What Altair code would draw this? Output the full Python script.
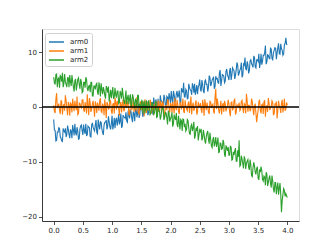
import altair as alt
import pandas as pd

# x grids: main samples (0 to 4, step 0.025) and the samples between them
x_main = [round(0.025 * i, 4) for i in range(161)]
x_mid = [round(0.0125 + 0.025 * i, 4) for i in range(160)]

arm0 = [
    -2.3, -4.3, -6.1, -4.6, -3.9, -5.7, -6.3, -4.4, -3.9, -5.0,
    -4.1, -5.7, -4.4, -3.3, -5.2, -4.7, -3.7, -5.9, -4.0, -3.3,
    -5.1, -4.3, -3.1, -5.1, -3.7, -5.4, -3.3, -3.7, -4.4, -2.4,
    -4.9, -3.4, -2.7, -4.0, -5.1, -2.8, -2.4, -3.5, -2.7, -4.1,
    -1.6, -3.3, -3.9, -2.0, -2.5, -3.2, -1.2, -3.5, -1.8, -2.1,
    -2.6, -0.7, -2.1, -0.9, -2.8, -1.2, -0.4, -1.9, 0.6, -1.4,
    -0.5, -1.8, 0.0, -0.7, 1.0, -1.1, 0.0, 0.8, -1.4, 0.7,
    1.4, 0.1, -0.3, 2.1, 1.0, 0.3, 1.7, 0.0, 1.7, 2.5,
    0.7, 1.6, 2.9, 0.8, 2.4, 1.7, 3.0, 0.8, 2.9, 4.4,
    1.8, 2.9, 1.6, 3.6, 3.0, 4.3, 2.6, 2.2, 4.0, 3.6,
    5.0, 2.8, 4.1, 2.5, 4.9, 4.1, 3.6, 5.4, 4.2, 5.1,
    3.3, 5.6, 5.2, 4.3, 6.7, 4.8, 5.8, 4.4, 6.5, 5.8,
    4.9, 7.1, 5.8, 6.8, 5.1, 6.8, 7.6, 6.1, 7.0, 5.4,
    7.8, 9.0, 6.8, 7.7, 6.6, 8.6, 7.6, 9.2, 7.3, 8.6,
    8.3, 7.1, 9.7, 8.3, 9.4, 11.2, 8.2, 9.4, 8.8, 10.5,
    8.6, 10.3, 10.7, 9.8, 11.6, 9.6, 10.6, 9.4, 11.3, 12.6,
    11.3,
]
arm0_mid = [
    -4.2, -6.2, -4.6, -3.8, -5.4, -6.2, -3.9, -4.6, -5.5, -3.4,
    -5.0, -4.1, -5.7, -4.2, -3.1, -5.2, -4.4, -5.8, -3.5, -4.4,
    -3.2, -4.9, -5.2, -3.5, -3.8, -5.5, -2.9, -4.1, -3.3, -4.7,
    -2.3, -4.1, -2.8, -4.7, -3.3, -2.8, -4.1, -1.7, -3.7, -3.0,
    -4.1, -2.0, -2.4, -3.4, -1.3, -2.6, -3.8, -1.5, -1.9, -1.0,
    -2.8, -1.5, -0.5, -2.1, -0.9, -2.6, -0.4, -1.1, -2.0, 0.5,
    -0.5, -1.3, 0.6, -0.7, -1.5, 0.4, 0.8, -0.4, 1.7, -0.5,
    0.5, 1.5, -0.7, 1.2, 0.7, 2.2, 0.2, 1.9, 0.9, 1.7,
    2.9, 0.6, 2.3, 1.3, 2.9, 2.1, 0.7, 3.4, 2.7, 1.8,
    3.2, 1.5, 4.2, 3.1, 2.2, 3.8, 4.2, 3.0, 2.3, 4.0,
    3.2, 4.9, 2.9, 4.7, 4.1, 2.8, 5.7, 3.8, 4.9, 5.5,
    3.7, 5.1, 4.4, 6.2, 3.8, 5.9, 5.6, 4.7, 6.9, 5.5,
    6.6, 4.9, 7.1, 6.6, 5.8, 8.1, 5.7, 6.7, 8.1, 5.8,
    7.6, 6.9, 8.3, 6.1, 8.4, 7.9, 7.2, 9.1, 7.1, 8.6,
    9.7, 8.0, 7.7, 9.4, 9.9, 7.8, 9.5, 8.9, 10.8, 8.8,
    9.9, 10.8, 8.7, 10.8, 9.7, 11.5, 10.3, 9.7, 11.6, 11.4,
]

arm1 = [
    0.3, -1.1, 2.5, 0.2, -0.6, 1.2, -1.4, 0.5, 2.1, -0.3,
    0.9, -1.6, 0.4, 1.5, -0.8, 0.1, 1.9, -1.2, 0.6, -0.2,
    1.3, -0.9, 0.0, 2.3, -1.5, 0.7, -0.4, 1.1, -1.8, 0.3,
    0.8, -0.7, 1.6, -1.0, 0.2, 1.4, -2.0, 0.5, -0.3, 1.0,
    -1.3, 0.6, 1.7, -0.5, 0.1, -1.6, 0.9, 0.4, -0.8, 1.2,
    -0.2, 0.7, -1.4, 1.5, 0.0, -0.9, 0.3, 1.8, -1.1, 0.4,
    -0.6, 1.0, -1.7, 0.2, 0.8, -0.4, 1.3, -1.2, 0.5, -0.1,
    0.9, -1.5, 0.3, 1.1, -0.7, 0.6, -1.9, 0.2, 1.4, -0.3,
    0.7, -1.0, 0.1, 1.6, -0.6, 0.4, -1.3, 0.8, 0.0, -0.8,
    1.2, -0.4, 0.5, -1.1, 1.9, 0.2, -0.7, 0.6, -1.4, 0.9,
    0.1, -0.5, 1.3, -1.6, 0.4, 0.8, -0.9, 1.0, -0.2, 0.5,
    -1.2, 3.3, 1.5, -0.6, 0.0, -1.4, 0.7, 1.1, -0.8, 0.2,
    0.6, -1.7, 0.9, -0.3, 1.4, -1.0, 0.2, 0.8, -0.5, 1.2,
    -1.1, 0.4, 2.4, -0.9, 0.3, -0.4, 1.0, -1.5, 0.6, -2.8,
    -0.7, 1.3, -1.2, 0.5, 0.9, -1.8, 0.2, 1.6, -0.6, 0.0,
    0.8, -1.3, 0.4, -2.1, 1.1, -0.2, 0.7, -1.0, 1.5, -0.4,
    0.3,
]
arm1_mid = [
    -0.8, 1.4, -0.2, 0.6, -1.3, 0.9, 0.1, -0.7, 1.2, -1.5,
    0.4, 0.8, -1.0, 0.2, 1.1, -0.6, -1.4, 0.7, 0.0, 1.3,
    -0.5, 0.9, -1.2, 0.3, 1.6, -0.9, 0.5, -0.3, 1.0, -1.1,
    0.2, 1.2, -0.8, 0.6, -1.5, 0.0, 0.9, -0.4, 1.3, -0.7,
    0.5, -1.2, 0.8, 1.1, -0.3, 0.6, -1.0, 1.4, -0.5, 0.2,
    0.9, -1.4, 0.3, -0.6, 1.2, 0.1, -0.8, 0.7, -1.3, 1.0,
    -0.2, 0.6, 1.4, -1.1, 0.3, -0.7, 0.9, 0.0, -1.5, 0.8,
    -0.4, 1.2, -0.9, 0.5, 1.0, -1.3, 0.2, -0.6, 1.1, -1.0,
    0.4, 0.9, -1.2, 0.0, 1.3, -0.8, 0.6, -0.3, 1.5, -1.1,
    0.3, -0.7, 1.0, 0.5, -1.4, 0.8, -0.2, 1.2, -0.9, 0.1,
    0.7, -1.1, 0.4, 1.4, -0.6, 0.0, -1.3, 0.9, 0.3, -0.8,
    1.8, -0.4, 0.6, -1.2, 1.1, 0.2, -0.9, 0.5, -0.3, 1.3,
    -1.0, 0.8, -0.5, 1.2, -1.4, 0.4, 0.0, -0.7, 1.0, -0.2,
    0.6, -1.2, 1.1, 0.3, -0.8, 1.5, -0.4, 0.2, -1.1, -1.6,
    0.9, -0.6, 0.4, -1.3, 1.2, 0.1, -0.9, 0.7, -0.2, 1.1,
    -1.4, 0.5, 1.0, -0.6, 0.2, -1.1, 1.3, 0.0, -0.7, 0.8,
]

arm2 = [
    5.4, 4.1, 6.0, 5.1, 3.5, 5.5, 6.2, 4.3, 4.6, 3.6,
    5.3, 5.8, 3.8, 4.7, 2.8, 5.1, 4.0, 5.3, 3.3, 4.5,
    2.8, 4.5, 5.4, 3.4, 3.8, 2.7, 4.5, 2.0, 3.8, 4.1,
    2.7, 4.5, 1.9, 3.2, 3.6, 2.1, 3.8, 2.6, 1.0, 3.1,
    2.7, 1.5, 3.5, 1.7, 2.9, 0.8, 2.4, 3.5, 1.1, 1.6,
    0.5, 2.2, 1.5, -0.1, 2.3, 0.7, 1.5, -0.2, 2.1, 0.3,
    0.8, -1.1, 1.1, 0.2, -0.7, 1.2, -1.4, -0.1, 0.2, -1.1,
    1.1, -1.8, -0.8, -2.3, -0.6, -0.4, -1.9, -1.1, -3.2, -1.1,
    -2.2, -1.0, -3.1, -2.0, -1.1, -3.7, -2.8, -2.3, -4.4, -2.3,
    -3.1, -4.1, -2.5, -4.9, -3.5, -4.4, -2.7, -5.2, -4.4, -6.1,
    -4.2, -4.0, -5.7, -5.0, -6.7, -4.8, -5.9, -4.7, -7.1, -5.9,
    -7.2, -5.5, -6.6, -8.3, -6.6, -7.7, -6.0, -8.7, -7.0, -8.0,
    -8.8, -7.2, -9.7, -8.2, -8.0, -9.9, -7.9, -6.1, -10.6, -9.5,
    -11.2, -9.5, -10.3, -9.6, -11.5, -10.6, -12.7, -10.1, -11.9, -11.2,
    -13.0, -11.4, -10.9, -13.2, -12.6, -14.3, -12.3, -13.8, -12.5, -14.7,
    -13.5, -15.6, -13.8, -14.7, -16.0, -13.9, -19.2, -16.0, -15.2, -15.8,
    -16.5,
]
arm2_mid = [
    4.4, 5.9, 3.6, 5.3, 5.7, 4.6, 3.6, 6.0, 4.1, 5.3,
    3.6, 4.6, 5.8, 3.6, 4.8, 3.0, 5.0, 4.1, 5.1, 2.6,
    4.5, 3.5, 5.0, 2.9, 3.9, 4.5, 2.0, 3.8, 3.2, 4.3,
    2.2, 3.6, 4.3, 2.3, 3.0, 1.5, 3.4, 3.7, 2.1, 1.6,
    3.6, 1.8, 2.2, 2.9, 0.6, 2.9, 1.5, 2.3, 0.5, 3.0,
    1.6, 0.5, 2.3, 0.7, 1.7, -0.3, 1.1, 2.1, 0.0, -0.5,
    1.3, 0.4, -1.2, 1.2, -0.3, 0.3, -1.2, 0.9, -1.3, -0.3,
    -1.9, -0.1, -0.8, -1.7, 0.1, -2.4, -1.0, -2.0, -0.7, -2.7,
    -1.8, -3.6, -1.4, -2.4, -3.2, -1.6, -4.1, -2.5, -2.2, -3.7,
    -4.4, -2.3, -3.8, -5.0, -3.2, -3.8, -5.8, -3.8, -3.5, -5.1,
    -4.5, -6.1, -4.2, -6.1, -5.4, -4.4, -6.7, -5.8, -7.4, -5.5,
    -6.5, -7.3, -5.6, -8.2, -6.7, -7.6, -6.6, -9.1, -7.5, -7.3,
    -8.8, -7.3, -9.6, -8.8, -7.5, -9.9, -9.1, -10.8, -8.9, -10.3,
    -9.0, -11.3, -9.9, -11.0, -9.6, -12.5, -11.1, -10.7, -12.3, -10.9,
    -13.3, -11.9, -11.6, -13.5, -12.8, -11.9, -14.4, -13.0, -14.0, -12.5,
    -15.0, -13.8, -15.9, -13.8, -14.8, -15.9, -17.0, -14.9, -16.3, -16.2,
]

series_names = ["arm0", "arm1", "arm2"]
series_colors = ["#1f77b4", "#ff7f0e", "#2ca02c"]
x_ticks = [0.0, 0.5, 1.0, 1.5, 2.0, 2.5, 3.0, 3.5, 4.0]
y_ticks = [-20, -15, -10, -5, 0, 5, 10]

rows = []
for name, main_vals, mid_vals in zip(
    series_names, [arm0, arm1, arm2], [arm0_mid, arm1_mid, arm2_mid]
):
    for xv, yv in zip(x_main, main_vals):
        rows.append({"x": xv, "value": yv, "series": name})
    for xv, yv in zip(x_mid, mid_vals):
        rows.append({"x": xv, "value": yv, "series": name})
df = pd.DataFrame(rows).sort_values(["series", "x"]).reset_index(drop=True)

FONT = "DejaVu Sans"
AX = "#262626"

axis_style = dict(
    title=None, grid=False, labelFont=FONT, labelFontSize=7, labelColor=AX,
    domainColor=AX, domainWidth=0.9, tickColor=AX, tickSize=3.5,
    tickWidth=0.8, labelPadding=2,
)

x_enc = alt.X(
    "x:Q",
    scale=alt.Scale(domain=[-0.2, 4.2], nice=False, zero=False),
    axis=alt.Axis(values=x_ticks, format=".1f", **axis_style),
)
y_enc = alt.Y(
    "value:Q",
    scale=alt.Scale(domain=[-20.8, 14.2], nice=False, zero=False),
    axis=alt.Axis(values=y_ticks, format="d", **axis_style),
)

lines = alt.Chart(df).mark_line(strokeWidth=1.1, clip=True).encode(
    x=x_enc,
    y=y_enc,
    color=alt.Color(
        "series:N",
        scale=alt.Scale(domain=series_names, range=series_colors),
        legend=alt.Legend(
            title=None, orient="none", legendX=3, legendY=4,
            symbolType="M-1,0H2", symbolSize=100, symbolStrokeWidth=1.5,
            labelFont=FONT, labelFontSize=7, labelColor=AX, labelOffset=10,
            padding=3, rowPadding=0, strokeColor="#d0d0d0",
            fillColor="#ffffff", cornerRadius=2,
        ),
    ),
)

zero_df = pd.DataFrame({"y0": [0]})
zero_rule = alt.Chart(zero_df).mark_rule(color="black", strokeWidth=1.5).encode(
    y=alt.Y("y0:Q")
)

chart = alt.layer(lines, zero_rule).properties(
    width=257,
    height=192,
    autosize=alt.AutoSizeParams(type="none"),
    padding={"left": 34, "top": 21, "right": 24, "bottom": 19},
).configure_view(stroke=None).configure(background="white")

chart.save("out.html", embed_options={"renderer": "svg", "actions": False})
